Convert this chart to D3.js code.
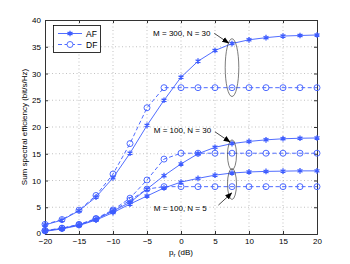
<!DOCTYPE html>
<html>
<head>
<meta charset="UTF-8">
<script src="https://d3js.org/d3.v7.min.js"></script>
<style>
body { margin: 0; background: #fff; }
text { font-family: "Liberation Sans", Arial, sans-serif; font-size: 8px; fill: #000; }
</style>
</head>
<body>
<div id="chart"></div>
<script>
// x values (dB)
var pr = [-20, -17.5, -15, -12.5, -10, -7.5, -5, -2.5, 0, 2.5, 5, 7.5, 10, 12.5, 15, 17.5, 20];

// series
var af300n30 = [1.7, 2.6, 4.35, 6.9, 10.5, 15.1, 20.3, 25.0, 29.3, 32.3, 34.3, 35.6, 36.3, 36.7, 37.0, 37.1, 37.2];
var df300n30 = [1.8, 2.7, 4.45, 7.2, 11.2, 16.9, 23.6, 27.35, 27.35, 27.35, 27.35, 27.35, 27.35, 27.35, 27.35, 27.35, 27.35];
var af100n30 = [0.6, 1.05, 1.7, 2.75, 4.3, 5.9, 8.4, 10.9, 13.1, 15.0, 16.2, 16.9, 17.3, 17.6, 17.8, 17.9, 17.95];
var df100n30 = [0.65, 1.1, 1.8, 2.9, 4.5, 6.7, 10.1, 14.0, 15.1, 15.1, 15.1, 15.1, 15.1, 15.1, 15.1, 15.1, 15.1];
var af100n5 = [0.5, 0.95, 1.6, 2.6, 4.0, 5.6, 7.1, 8.6, 9.7, 10.4, 11.0, 11.4, 11.6, 11.7, 11.75, 11.8, 11.8];
var df100n5 = [0.6, 1.05, 1.7, 2.8, 4.3, 6.3, 8.4, 8.85, 8.85, 8.85, 8.85, 8.85, 8.85, 8.85, 8.85, 8.85, 8.85];

var xTicks = [-20, -15, -10, -5, 0, 5, 10, 15, 20];
var yTicks = [0, 5, 10, 15, 20, 25, 30, 35, 40];

// annotations in data units
var labels = [
  {text: "M = 300, N = 30", x: -4.1, y: 37.0},
  {text: "M = 100, N = 30", x: -4.0, y: 18.9},
  {text: "M = 100, N = 5", x: -4.0, y: 4.3}
];
var ellipses = [
  {cx: 7.5, cy: 31.1, rx: 1.0, ry: 5.4},
  {cx: 7.5, cy: 14.8, rx: 0.66, ry: 2.8},
  {cx: 7.5, cy: 9.35, rx: 0.66, ry: 2.9}
];
var arrows = [
  {x1: 4.9, y1: 37.5, x2: 7.0, y2: 35.7},
  {x1: 5.0, y1: 19.1, x2: 7.2, y2: 17.2},
  {x1: 5.5, y1: 5.4, x2: 7.45, y2: 7.65}
];

var W = 350, H = 264;
var margin = {top: 20, right: 33, bottom: 30, left: 45};
var blue = "#3d5cff";

var svg = d3.select("#chart").append("svg")
  .attr("width", W).attr("height", H);

var x = d3.scaleLinear().domain([-20, 20]).range([margin.left, W - margin.right]);
var y = d3.scaleLinear().domain([0, 40]).range([H - margin.bottom, margin.top]);

svg.append("defs").append("marker")
  .attr("id", "head")
  .attr("viewBox", "0 0 10 10")
  .attr("refX", 9).attr("refY", 5)
  .attr("markerWidth", 7).attr("markerHeight", 7)
  .attr("markerUnits", "userSpaceOnUse")
  .attr("orient", "auto")
  .append("path").attr("d", "M0,1 L10,5 L0,9 z").attr("fill", "#000");

// grid
var grid = svg.append("g");
grid.selectAll(".gx").data(xTicks.slice(1, -1)).enter().append("line")
  .attr("x1", d => x(d)).attr("x2", d => x(d))
  .attr("y1", y(0)).attr("y2", y(40))
  .attr("stroke", "#999").attr("stroke-width", 0.6).attr("stroke-dasharray", "1,2.5");
grid.selectAll(".gy").data(yTicks.slice(1, -1)).enter().append("line")
  .attr("x1", x(-20)).attr("x2", x(20))
  .attr("y1", d => y(d)).attr("y2", d => y(d))
  .attr("stroke", "#999").attr("stroke-width", 0.6).attr("stroke-dasharray", "1,2.5");

// axes (ticks inside, MATLAB style)
var xAxis = svg.append("g").attr("transform", "translate(0," + y(0) + ")")
  .call(d3.axisBottom(x).tickValues(xTicks).tickSize(-3).tickPadding(4.5)
    .tickFormat(d => d < 0 ? "\u2212" + Math.abs(d) : d));
var yAxis = svg.append("g").attr("transform", "translate(" + x(-20) + ",0)")
  .call(d3.axisLeft(y).tickValues(yTicks).tickSize(-3).tickPadding(4));
var xTop = svg.append("g").attr("transform", "translate(0," + y(40) + ")")
  .call(d3.axisTop(x).tickValues(xTicks).tickSize(-3).tickFormat(""));
var yRight = svg.append("g").attr("transform", "translate(" + x(20) + ",0)")
  .call(d3.axisRight(y).tickValues(yTicks).tickSize(-3).tickFormat(""));
[xAxis, yAxis, xTop, yRight].forEach(function(a) {
  a.select(".domain").attr("stroke", "#333");
  a.selectAll(".tick line").attr("stroke", "#333");
  a.selectAll("text").style("font-family", "Liberation Sans, Arial, sans-serif").style("font-size", "8px").attr("fill", "#000");
});
// lift the "0" a little so it clears the -20 label
yAxis.selectAll(".tick text").filter(d => d === 0).attr("y", -1.5);

// series
var series = [
  {v: af300n30, af: true}, {v: df300n30, af: false},
  {v: af100n30, af: true}, {v: df100n30, af: false},
  {v: af100n5, af: true}, {v: df100n5, af: false}
];
var line = d3.line().x((d, i) => x(pr[i])).y(d => y(d));
var star = d3.symbol().type(d3.symbolAsterisk).size(22);

series.forEach(function(s) {
  svg.append("path").datum(s.v)
    .attr("d", line)
    .attr("fill", "none").attr("stroke", blue).attr("stroke-width", 0.9)
    .attr("stroke-dasharray", s.af ? null : "4,2.5");
  if (s.af) {
    svg.append("g").selectAll("path").data(s.v).enter().append("path")
      .attr("d", star)
      .attr("transform", (d, i) => "translate(" + x(pr[i]) + "," + y(d) + ")")
      .attr("fill", "none").attr("stroke", blue).attr("stroke-width", 1.3);
  } else {
    svg.append("g").selectAll("circle").data(s.v).enter().append("circle")
      .attr("cx", (d, i) => x(pr[i])).attr("cy", d => y(d)).attr("r", 3)
      .attr("fill", "none").attr("stroke", blue).attr("stroke-width", 0.9);
  }
});

// annotations
svg.selectAll(".ell").data(ellipses).enter().append("ellipse")
  .attr("cx", d => x(d.cx)).attr("cy", d => y(d.cy))
  .attr("rx", d => x(d.cx + d.rx) - x(d.cx)).attr("ry", d => y(d.cy - d.ry) - y(d.cy))
  .attr("fill", "none").attr("stroke", "#444").attr("stroke-width", 0.7);
svg.selectAll(".arr").data(arrows).enter().append("line")
  .attr("x1", d => x(d.x1)).attr("y1", d => y(d.y1))
  .attr("x2", d => x(d.x2)).attr("y2", d => y(d.y2))
  .attr("stroke", "#000").attr("stroke-width", 0.7)
  .attr("marker-end", "url(#head)");
svg.selectAll(".lab").data(labels).enter().append("text")
  .attr("x", d => x(d.x)).attr("y", d => y(d.y))
  .text(d => d.text);

// legend
var lg = svg.append("g");
lg.append("rect").attr("x", 53.5).attr("y", 25.5).attr("width", 47).attr("height", 27)
  .attr("fill", "#fff").attr("stroke", "#000").attr("stroke-width", 0.8);
var legendItems = [{name: "AF", af: true, yy: 33.5}, {name: "DF", af: false, yy: 44.5}];
legendItems.forEach(function(d) {
  lg.append("line").attr("x1", 58).attr("x2", 82).attr("y1", d.yy).attr("y2", d.yy)
    .attr("stroke", blue).attr("stroke-width", 0.9)
    .attr("stroke-dasharray", d.af ? null : "4,2.5");
  if (d.af) {
    lg.append("path").attr("d", star).attr("transform", "translate(70," + d.yy + ")")
      .attr("fill", "none").attr("stroke", blue).attr("stroke-width", 1.3);
  } else {
    lg.append("circle").attr("cx", 70).attr("cy", d.yy).attr("r", 3)
      .attr("fill", "#fff").attr("stroke", blue).attr("stroke-width", 0.9);
  }
  lg.append("text").attr("x", 86).attr("y", d.yy + 3).style("font-size", "8.5px").text(d.name);
});

// axis labels
svg.append("text")
  .attr("transform", "translate(27," + ((y(0) + y(40)) / 2) + ") rotate(-90)")
  .attr("text-anchor", "middle")
  .text("Sum spectral efficiency (bit/s/Hz)");
var xl = svg.append("text").attr("x", x(0)).attr("y", 254.5).attr("text-anchor", "middle");
xl.append("tspan").text("p");
xl.append("tspan").attr("dy", 2).style("font-size", "6px").text("r");
xl.append("tspan").attr("dy", -2).text(" (dB)");
</script>
</body>
</html>
